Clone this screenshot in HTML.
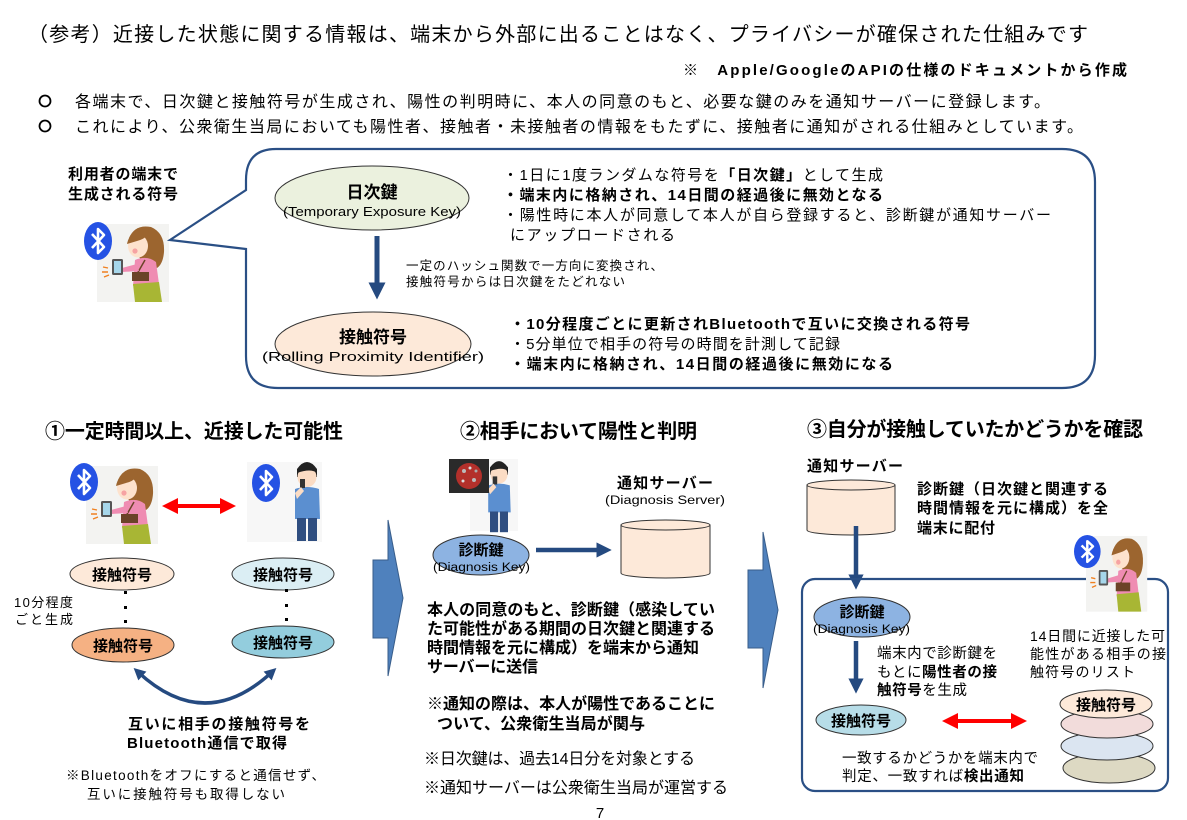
<!DOCTYPE html>
<html lang="ja">
<head>
<meta charset="utf-8">
<style>
html,body{margin:0;padding:0;background:#fff;}
svg{display:block;}
text{font-family:"Liberation Sans","Noto Sans CJK JP",sans-serif;fill:#000;}
.b{font-weight:bold;}
</style>
</head>
<body>
<svg width="1187" height="820" viewBox="0 0 1187 820" xmlns="http://www.w3.org/2000/svg">
<defs>
  <marker id="nv" viewBox="0 0 10 10" refX="5" refY="5" markerWidth="3.4" markerHeight="3.4" orient="auto-start-reverse" markerUnits="strokeWidth">
    <path d="M0,0 L10,5 L0,10 Z" fill="#254a80"/>
  </marker>
  <marker id="rd" viewBox="0 0 10 10" refX="5" refY="5" markerWidth="4" markerHeight="4" orient="auto-start-reverse" markerUnits="strokeWidth">
    <path d="M0,0 L10,5 L0,10 Z" fill="#ff0000"/>
  </marker>
  <g id="bt">
    <ellipse cx="14" cy="19" rx="14" ry="19" fill="#2552e4"/>
    <path d="M8,12 L20,25 L14,31 L14,7 L20,13 L8,26" fill="none" stroke="#fff" stroke-width="2.6" stroke-linejoin="round"/>
  </g>
  <g id="woman">
    <rect width="72" height="78" fill="#f3f3f1"/>
    <path d="M32,14 Q38,0 54,3 Q68,9 67,28 Q66,40 60,44 L46,40 Z" fill="#9c652f"/>
    <ellipse cx="41" cy="22" rx="10" ry="11.5" fill="#fde2cd"/>
    <path d="M30,20 Q33,4 52,5 Q52,14 40,17 Z" fill="#9c652f"/>
    <circle cx="38" cy="27" r="2.6" fill="#f6a3a3"/>
    <path d="M38,36 Q50,31 59,38 L62,60 L36,62 Z" fill="#ef8cb2"/>
    <path d="M36,60 L62,58 L65,78 L38,78 Z" fill="#a8b634"/>
    <path d="M48,36 L40,50" stroke="#6b4327" stroke-width="1.5"/>
    <rect x="35" y="48" width="17" height="9" fill="#6b4327"/>
    <path d="M40,40 L25,44 L25,48 L42,47 Z" fill="#ef8cb2"/>
    <rect x="15" y="35" width="11" height="16" rx="1.5" fill="#555"/>
    <rect x="17" y="37" width="7" height="12" fill="#a6d6ea"/>
    <path d="M6,43 l5,1 M5,48 l6,0 M7,53 l5,-2" stroke="#f08020" stroke-width="1.4"/>
  </g>
  <g id="man">
    <path d="M-10,6 Q0,-8 10,6 L10,14 L-10,14 Z" fill="#222"/>
    <ellipse cx="0" cy="14" rx="9.5" ry="10" fill="#fbdcc4"/>
    <path d="M-10,10 Q-8,1 0,2 Q9,1 10,10 Q4,5 -10,10 Z" fill="#222"/>
    <path d="M-12,26 Q0,22 12,26 L13,56 L-12,56 Z" fill="#5b8fd0"/>
    <rect x="-10" y="55" width="9" height="23" fill="#2f4e80"/>
    <rect x="1" y="55" width="9" height="23" fill="#2f4e80"/>
    <rect x="-7" y="16" width="5" height="9" fill="#333"/>
    <path d="M-12,30 L-6,24 L-3,28 L-10,36 Z" fill="#fbdcc4"/>
  </g>
</defs>

<!-- Header -->
<text x="28" y="41" font-size="20" textLength="1060" lengthAdjust="spacing">（参考）近接した状態に関する情報は、端末から外部に出ることはなく、プライバシーが確保された仕組みです</text>
<text x="683" y="75" font-size="15" class="b" textLength="444" lengthAdjust="spacing">※　Apple/GoogleのAPIの仕様のドキュメントから作成</text>
<circle cx="45" cy="101" r="5.5" fill="none" stroke="#000" stroke-width="1.8"/>
<text x="75" y="107" font-size="16" textLength="975" lengthAdjust="spacing">各端末で、日次鍵と接触符号が生成され、陽性の判明時に、本人の同意のもと、必要な鍵のみを通知サーバーに登録します。</text>
<circle cx="45" cy="126" r="5.5" fill="none" stroke="#000" stroke-width="1.8"/>
<text x="75" y="132" font-size="16" textLength="1008" lengthAdjust="spacing">これにより、公衆衛生当局においても陽性者、接触者・未接触者の情報をもたずに、接触者に通知がされる仕組みとしています。</text>

<!-- Callout -->
<text x="68" y="179" font-size="15" class="b" textLength="110" lengthAdjust="spacing">利用者の端末で</text>
<text x="68" y="199" font-size="15" class="b" textLength="110" lengthAdjust="spacing">生成される符号</text>
<use href="#woman" transform="translate(97,224)"/>
<use href="#bt" transform="translate(84,222)"/>

<path d="M276,149 L1062,149 Q1095,149 1095,182 L1095,355 Q1095,388 1062,388 L278,388 Q246,388 246,356 L246,249 L170,240 L246,190 L246,180 Q246,149 276,149 Z" fill="none" stroke="#2a4f85" stroke-width="2.2"/>

<ellipse cx="372" cy="198" rx="97" ry="32" fill="#ebf1de" stroke="#333" stroke-width="1"/>
<text x="372" y="198" font-size="17" class="b" text-anchor="middle">日次鍵</text>
<text x="283" y="216" font-size="12.5" textLength="178" lengthAdjust="spacingAndGlyphs">(Temporary Exposure Key)</text>

<line x1="377" y1="236" x2="377" y2="291" stroke="#254a80" stroke-width="5" marker-end="url(#nv)"/>
<text x="406" y="270" font-size="12.5" textLength="257" lengthAdjust="spacing">一定のハッシュ関数で一方向に変換され、</text>
<text x="406" y="286" font-size="12.5" textLength="219" lengthAdjust="spacing">接触符号からは日次鍵をたどれない</text>

<ellipse cx="373" cy="344" rx="98" ry="32" fill="#fde9d9" stroke="#333" stroke-width="1"/>
<text x="373" y="343" font-size="17" class="b" text-anchor="middle">接触符号</text>
<text x="262" y="361" font-size="12.5" textLength="222" lengthAdjust="spacingAndGlyphs">(Rolling Proximity Identifier)</text>

<text x="503" y="180" font-size="15" textLength="380" lengthAdjust="spacing">・1日に1度ランダムな符号を<tspan class="b">「日次鍵」</tspan>として生成</text>
<text x="503" y="200" font-size="15" class="b" textLength="380" lengthAdjust="spacing">・端末内に格納され、14日間の経過後に無効となる</text>
<text x="503" y="220" font-size="15" textLength="548" lengthAdjust="spacing">・陽性時に本人が同意して本人が自ら登録すると、診断鍵が通知サーバー</text>
<text x="510" y="240" font-size="15" textLength="165" lengthAdjust="spacing">にアップロードされる</text>

<text x="510" y="329" font-size="15" class="b" textLength="460" lengthAdjust="spacing">・10分程度ごとに更新されBluetoothで互いに交換される符号</text>
<text x="510" y="349" font-size="15" textLength="330" lengthAdjust="spacing">・5分単位で相手の符号の時間を計測して記録</text>
<text x="510" y="369" font-size="15" class="b" textLength="383" lengthAdjust="spacing">・端末内に格納され、14日間の経過後に無効になる</text>

<!-- Section titles -->
<text x="45" y="438" font-size="20" class="b" textLength="298" lengthAdjust="spacing">①一定時間以上、近接した可能性</text>
<text x="460" y="438" font-size="20" class="b" textLength="237" lengthAdjust="spacing">②相手において陽性と判明</text>
<text x="807" y="436" font-size="20" class="b" textLength="336" lengthAdjust="spacing">③自分が接触していたかどうかを確認</text>

<!-- Section 1 -->
<use href="#woman" transform="translate(86,466)"/>
<use href="#bt" transform="translate(70,463)"/>
<rect x="247" y="462" width="75" height="80" fill="#f7f7f7"/>
<use href="#man" transform="translate(307,463)"/>
<use href="#bt" transform="translate(252,464)"/>
<line x1="170" y1="506" x2="228" y2="506" stroke="#ff0000" stroke-width="4" marker-start="url(#rd)" marker-end="url(#rd)"/>

<ellipse cx="122" cy="574" rx="52" ry="16" fill="#fde9d9" stroke="#333" stroke-width="1"/>
<text x="122" y="580" font-size="15" class="b" text-anchor="middle">接触符号</text>
<ellipse cx="283" cy="574" rx="51" ry="16" fill="#dbeef4" stroke="#333" stroke-width="1"/>
<text x="283" y="580" font-size="15" class="b" text-anchor="middle">接触符号</text>
<rect x="124" y="591" width="3" height="3" fill="#000"/><rect x="124" y="606" width="3" height="3" fill="#000"/><rect x="124" y="620" width="3" height="3" fill="#000"/>
<rect x="285" y="589" width="3" height="3" fill="#000"/><rect x="285" y="604" width="3" height="3" fill="#000"/><rect x="285" y="618" width="3" height="3" fill="#000"/>
<text x="14" y="607" font-size="13" textLength="59" lengthAdjust="spacing">10分程度</text>
<text x="15" y="624" font-size="13" textLength="58" lengthAdjust="spacing">ごと生成</text>
<ellipse cx="123" cy="645" rx="51" ry="17" fill="#f5b183" stroke="#333" stroke-width="1"/>
<text x="123" y="651" font-size="15" class="b" text-anchor="middle">接触符号</text>
<ellipse cx="283" cy="642" rx="51" ry="16" fill="#93cddd" stroke="#333" stroke-width="1"/>
<text x="283" y="648" font-size="15" class="b" text-anchor="middle">接触符号</text>
<path d="M138,672 Q205,734 272,672" fill="none" stroke="#254a80" stroke-width="3.5" marker-start="url(#nv)" marker-end="url(#nv)"/>
<text x="128" y="729" font-size="15" class="b" textLength="182" lengthAdjust="spacing">互いに相手の接触符号を</text>
<text x="127" y="748" font-size="15" class="b" textLength="160" lengthAdjust="spacing">Bluetooth通信で取得</text>
<text x="66" y="780" font-size="13.5" textLength="259" lengthAdjust="spacing">※Bluetoothをオフにすると通信せず、</text>
<text x="87" y="799" font-size="13.5" textLength="198" lengthAdjust="spacing">互いに接触符号も取得しない</text>

<!-- Block arrows -->
<path d="M373,560 L388,560 L388,520 L403,598 L388,676 L388,638 L373,638 Z" fill="#4f81bd" stroke="#385d8a" stroke-width="1"/>
<path d="M748,570 L763,570 L763,532 L778,610 L763,688 L763,648 L748,648 Z" fill="#4f81bd" stroke="#385d8a" stroke-width="1"/>

<!-- Section 2 -->
<rect x="470" y="459" width="48" height="72" fill="#f7f7f7"/>
<g transform="translate(499,462) scale(0.9)"><use href="#man"/></g>
<rect x="449" y="459" width="40" height="34" fill="#2a2a2a"/>
<circle cx="469" cy="476" r="13" fill="#b3302b"/>
<circle cx="464" cy="471" r="2" fill="#bbb"/><circle cx="474" cy="480" r="2" fill="#bbb"/><circle cx="470" cy="468" r="1.5" fill="#ddd"/><circle cx="463" cy="481" r="1.5" fill="#ddd"/><circle cx="476" cy="471" r="1.5" fill="#aaa"/>
<ellipse cx="481" cy="555" rx="48" ry="20" fill="#8db3e2" stroke="#333" stroke-width="1"/>
<text x="481" y="555" font-size="15" class="b" text-anchor="middle">診断鍵</text>
<text x="433" y="571" font-size="11.5" textLength="97" lengthAdjust="spacingAndGlyphs">(Diagnosis Key)</text>
<line x1="536" y1="550" x2="604" y2="550" stroke="#254a80" stroke-width="4.5" marker-end="url(#nv)"/>
<text x="617" y="488" font-size="15" class="b" textLength="96" lengthAdjust="spacing">通知サーバー</text>
<text x="605" y="504" font-size="11.5" textLength="120" lengthAdjust="spacingAndGlyphs">(Diagnosis Server)</text>
<path d="M621,525 L621,573 A44.5,5 0 0 0 710,573 L710,525 Z" fill="#fde9d9" stroke="#333" stroke-width="1"/>
<ellipse cx="665.5" cy="525" rx="44.5" ry="5" fill="#fde9d9" stroke="#333" stroke-width="1"/>
<text x="427" y="615" font-size="16" class="b" textLength="288" lengthAdjust="spacing">本人の同意のもと、診断鍵（感染してい</text>
<text x="427" y="634" font-size="16" class="b" textLength="288" lengthAdjust="spacing">た可能性がある期間の日次鍵と関連する</text>
<text x="427" y="653" font-size="16" class="b" textLength="272" lengthAdjust="spacing">時間情報を元に構成）を端末から通知</text>
<text x="427" y="672" font-size="16" class="b" textLength="111" lengthAdjust="spacing">サーバーに送信</text>
<text x="427" y="709" font-size="16" class="b" textLength="288" lengthAdjust="spacing">※通知の際は、本人が陽性であることに</text>
<text x="437" y="729" font-size="16" class="b" textLength="208" lengthAdjust="spacing">ついて、公衆衛生当局が関与</text>
<text x="424" y="764" font-size="16" textLength="271" lengthAdjust="spacing">※日次鍵は、過去14日分を対象とする</text>
<text x="424" y="793" font-size="16" textLength="304" lengthAdjust="spacing">※通知サーバーは公衆衛生当局が運営する</text>
<text x="600" y="818" font-size="15" text-anchor="middle">7</text>

<!-- Section 3 -->
<text x="807" y="471" font-size="15" class="b" textLength="96" lengthAdjust="spacing">通知サーバー</text>
<path d="M807,485 L807,530 A44,5 0 0 0 895,530 L895,485 Z" fill="#fde9d9" stroke="#333" stroke-width="1"/>
<ellipse cx="851" cy="485" rx="44" ry="5" fill="#fde9d9" stroke="#333" stroke-width="1"/>
<text x="917" y="494" font-size="15" class="b" textLength="191" lengthAdjust="spacing">診断鍵（日次鍵と関連する</text>
<text x="917" y="513" font-size="15" class="b" textLength="191" lengthAdjust="spacing">時間情報を元に構成）を全</text>
<text x="917" y="533" font-size="15" class="b" textLength="78" lengthAdjust="spacing">端末に配付</text>
<line x1="856" y1="526" x2="856" y2="582" stroke="#254a80" stroke-width="4.5" marker-end="url(#nv)"/>
<rect x="802" y="579" width="366" height="212" rx="13" ry="13" fill="none" stroke="#2a4f85" stroke-width="2.2"/>
<use href="#woman" transform="translate(1086,536) scale(0.85,0.97)"/>
<use href="#bt" transform="translate(1074,535) scale(0.95,0.87)"/>
<ellipse cx="862" cy="617" rx="48" ry="20" fill="#8db3e2" stroke="#333" stroke-width="1"/>
<text x="862" y="617" font-size="15" class="b" text-anchor="middle">診断鍵</text>
<text x="813" y="633" font-size="11.5" textLength="97" lengthAdjust="spacingAndGlyphs">(Diagnosis Key)</text>
<line x1="856" y1="641" x2="856" y2="686" stroke="#254a80" stroke-width="4.5" marker-end="url(#nv)"/>
<text x="877" y="658" font-size="14.5" textLength="120" lengthAdjust="spacing">端末内で診断鍵を</text>
<text x="877" y="677" font-size="14.5" textLength="120" lengthAdjust="spacing">もとに<tspan class="b">陽性者の接</tspan></text>
<text x="877" y="695" font-size="14.5" textLength="90" lengthAdjust="spacing"><tspan class="b">触符号</tspan>を生成</text>
<text x="1030" y="641" font-size="14" textLength="135" lengthAdjust="spacing">14日間に近接した可</text>
<text x="1030" y="659" font-size="14" textLength="136" lengthAdjust="spacing">能性がある相手の接</text>
<text x="1030" y="677" font-size="14" textLength="105" lengthAdjust="spacing">触符号のリスト</text>
<ellipse cx="861" cy="720" rx="45" ry="15" fill="#b7dde8" stroke="#333" stroke-width="1"/>
<text x="861" y="726" font-size="15" class="b" text-anchor="middle">接触符号</text>
<line x1="950" y1="721" x2="1019" y2="721" stroke="#ff0000" stroke-width="4" marker-start="url(#rd)" marker-end="url(#rd)"/>
<ellipse cx="1109" cy="768" rx="46" ry="15" fill="#ddd9c3" stroke="#333" stroke-width="1"/>
<ellipse cx="1107" cy="746" rx="46" ry="14" fill="#dbe5f1" stroke="#333" stroke-width="1"/>
<ellipse cx="1107" cy="724" rx="46" ry="14" fill="#f2dcdb" stroke="#333" stroke-width="1"/>
<ellipse cx="1106" cy="704" rx="46" ry="14" fill="#fde9d9" stroke="#333" stroke-width="1"/>
<text x="1106" y="710" font-size="15" class="b" text-anchor="middle">接触符号</text>
<text x="842" y="763" font-size="14.5" textLength="196" lengthAdjust="spacing">一致するかどうかを端末内で</text>
<text x="842" y="781" font-size="14.5" textLength="182" lengthAdjust="spacing">判定、一致すれば<tspan class="b">検出通知</tspan></text>
</svg>
</body>
</html>
